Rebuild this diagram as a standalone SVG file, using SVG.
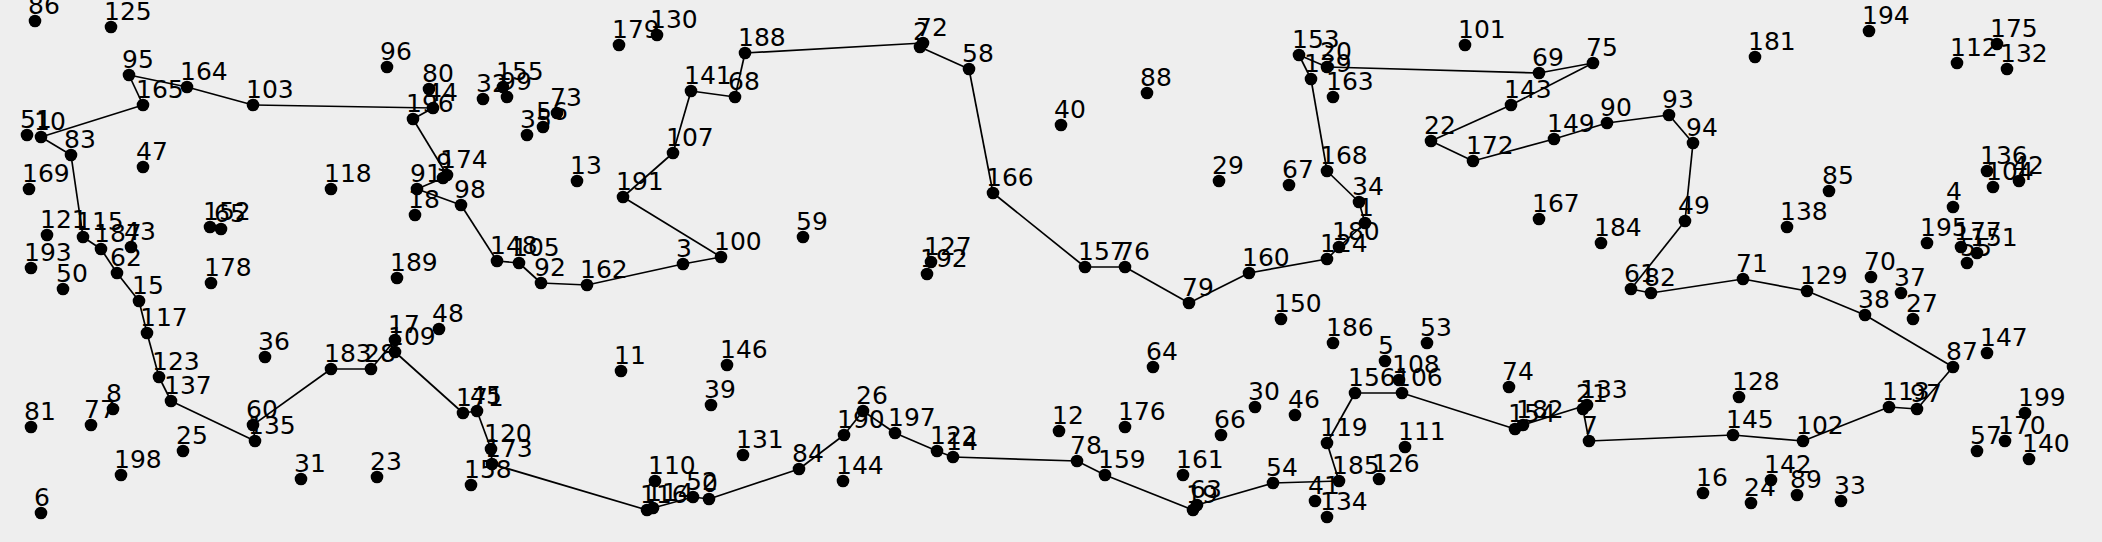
<svg xmlns="http://www.w3.org/2000/svg" width="2102" height="542" viewBox="0 0 2102 542">
<style>
.n circle{fill:#000}
.n text{font-family:"DejaVu Sans",sans-serif;font-size:25px;fill:#000}
.e line{stroke:#000;stroke-width:1.7}
</style>
<rect width="2102" height="542" fill="#eeeeee"/>
<g class="e" id="edges">
<line x1="253" y1="105" x2="433" y2="108"/>
<line x1="433" y1="108" x2="413" y2="119"/>
<line x1="413" y1="119" x2="447" y2="175"/>
<line x1="447" y1="175" x2="443" y2="178"/>
<line x1="443" y1="178" x2="417" y2="189"/>
<line x1="417" y1="189" x2="461" y2="205"/>
<line x1="461" y1="205" x2="497" y2="261"/>
<line x1="497" y1="261" x2="519" y2="263"/>
<line x1="519" y1="263" x2="541" y2="283"/>
<line x1="541" y1="283" x2="587" y2="285"/>
<line x1="587" y1="285" x2="683" y2="264"/>
<line x1="683" y1="264" x2="721" y2="257"/>
<line x1="721" y1="257" x2="623" y2="197"/>
<line x1="623" y1="197" x2="673" y2="153"/>
<line x1="673" y1="153" x2="691" y2="91"/>
<line x1="691" y1="91" x2="735" y2="97"/>
<line x1="735" y1="97" x2="745" y2="53"/>
<line x1="745" y1="53" x2="923" y2="43"/>
<line x1="923" y1="43" x2="920" y2="47"/>
<line x1="920" y1="47" x2="969" y2="69"/>
<line x1="969" y1="69" x2="993" y2="193"/>
<line x1="993" y1="193" x2="1085" y2="267"/>
<line x1="1085" y1="267" x2="1125" y2="267"/>
<line x1="1125" y1="267" x2="1189" y2="303"/>
<line x1="1189" y1="303" x2="1249" y2="273"/>
<line x1="1249" y1="273" x2="1327" y2="259"/>
<line x1="1327" y1="259" x2="1339" y2="247"/>
<line x1="1339" y1="247" x2="1365" y2="223"/>
<line x1="1365" y1="223" x2="1359" y2="202"/>
<line x1="1359" y1="202" x2="1327" y2="171"/>
<line x1="1327" y1="171" x2="1311" y2="79"/>
<line x1="1311" y1="79" x2="1299" y2="55"/>
<line x1="1299" y1="55" x2="1327" y2="67"/>
<line x1="1327" y1="67" x2="1539" y2="73"/>
<line x1="1539" y1="73" x2="1593" y2="63"/>
<line x1="1593" y1="63" x2="1511" y2="105"/>
<line x1="1511" y1="105" x2="1431" y2="141"/>
<line x1="1431" y1="141" x2="1473" y2="161"/>
<line x1="1473" y1="161" x2="1554" y2="139"/>
<line x1="1554" y1="139" x2="1607" y2="123"/>
<line x1="1607" y1="123" x2="1669" y2="115"/>
<line x1="1669" y1="115" x2="1693" y2="143"/>
<line x1="1693" y1="143" x2="1685" y2="221"/>
<line x1="1685" y1="221" x2="1631" y2="289"/>
<line x1="1631" y1="289" x2="1651" y2="293"/>
<line x1="1651" y1="293" x2="1743" y2="279"/>
<line x1="1743" y1="279" x2="1807" y2="291"/>
<line x1="1807" y1="291" x2="1865" y2="315"/>
<line x1="1865" y1="315" x2="1953" y2="367"/>
<line x1="1953" y1="367" x2="1917" y2="409"/>
<line x1="1917" y1="409" x2="1889" y2="407"/>
<line x1="1889" y1="407" x2="1803" y2="441"/>
<line x1="1803" y1="441" x2="1733" y2="435"/>
<line x1="1733" y1="435" x2="1589" y2="441"/>
<line x1="1589" y1="441" x2="1583" y2="409"/>
<line x1="1583" y1="409" x2="1587" y2="405"/>
<line x1="1587" y1="405" x2="1523" y2="425"/>
<line x1="1523" y1="425" x2="1515" y2="429"/>
<line x1="1515" y1="429" x2="1402" y2="393"/>
<line x1="1402" y1="393" x2="1355" y2="393"/>
<line x1="1355" y1="393" x2="1327" y2="443"/>
<line x1="1327" y1="443" x2="1339" y2="481"/>
<line x1="1339" y1="481" x2="1273" y2="483"/>
<line x1="1273" y1="483" x2="1197" y2="505"/>
<line x1="1197" y1="505" x2="1193" y2="510"/>
<line x1="1193" y1="510" x2="1105" y2="475"/>
<line x1="1105" y1="475" x2="1077" y2="461"/>
<line x1="1077" y1="461" x2="953" y2="457"/>
<line x1="953" y1="457" x2="937" y2="451"/>
<line x1="937" y1="451" x2="895" y2="433"/>
<line x1="895" y1="433" x2="863" y2="411"/>
<line x1="863" y1="411" x2="844" y2="435"/>
<line x1="844" y1="435" x2="799" y2="469"/>
<line x1="799" y1="469" x2="709" y2="499"/>
<line x1="709" y1="499" x2="693" y2="497"/>
<line x1="693" y1="497" x2="653" y2="508"/>
<line x1="653" y1="508" x2="647" y2="510"/>
<line x1="647" y1="510" x2="492" y2="464"/>
<line x1="492" y1="464" x2="491" y2="449"/>
<line x1="491" y1="449" x2="477" y2="411"/>
<line x1="477" y1="411" x2="463" y2="413"/>
<line x1="463" y1="413" x2="395" y2="352"/>
<line x1="395" y1="352" x2="395" y2="340"/>
<line x1="395" y1="340" x2="371" y2="369"/>
<line x1="371" y1="369" x2="331" y2="369"/>
<line x1="331" y1="369" x2="253" y2="425"/>
<line x1="253" y1="425" x2="255" y2="441"/>
<line x1="255" y1="441" x2="171" y2="401"/>
<line x1="171" y1="401" x2="159" y2="377"/>
<line x1="159" y1="377" x2="147" y2="333"/>
<line x1="147" y1="333" x2="139" y2="301"/>
<line x1="139" y1="301" x2="117" y2="273"/>
<line x1="117" y1="273" x2="101" y2="249"/>
<line x1="101" y1="249" x2="83" y2="237"/>
<line x1="83" y1="237" x2="71" y2="155"/>
<line x1="71" y1="155" x2="41" y2="137"/>
<line x1="41" y1="137" x2="143" y2="105"/>
<line x1="143" y1="105" x2="129" y2="75"/>
<line x1="129" y1="75" x2="187" y2="87"/>
<line x1="187" y1="87" x2="253" y2="105"/>
</g>
<g class="n" id="n0"><circle cx="709" cy="499" r="6.3"/><text x="702" y="492">0</text></g>
<g class="n" id="n1"><circle cx="1365" cy="223" r="6.3"/><text x="1358" y="216">1</text></g>
<g class="n" id="n2"><circle cx="920" cy="47" r="6.3"/><text x="913" y="40">2</text></g>
<g class="n" id="n3"><circle cx="683" cy="264" r="6.3"/><text x="676" y="257">3</text></g>
<g class="n" id="n4"><circle cx="1953" cy="207" r="6.3"/><text x="1946" y="200">4</text></g>
<g class="n" id="n5"><circle cx="1385" cy="361" r="6.3"/><text x="1378" y="354">5</text></g>
<g class="n" id="n6"><circle cx="41" cy="513" r="6.3"/><text x="34" y="506">6</text></g>
<g class="n" id="n7"><circle cx="1589" cy="441" r="6.3"/><text x="1582" y="434">7</text></g>
<g class="n" id="n8"><circle cx="113" cy="409" r="6.3"/><text x="106" y="402">8</text></g>
<g class="n" id="n9"><circle cx="443" cy="178" r="6.3"/><text x="436" y="171">9</text></g>
<g class="n" id="n10"><circle cx="41" cy="137" r="6.3"/><text x="34" y="130">10</text></g>
<g class="n" id="n11"><circle cx="621" cy="371" r="6.3"/><text x="614" y="364">11</text></g>
<g class="n" id="n12"><circle cx="1059" cy="431" r="6.3"/><text x="1052" y="424">12</text></g>
<g class="n" id="n13"><circle cx="577" cy="181" r="6.3"/><text x="570" y="174">13</text></g>
<g class="n" id="n14"><circle cx="953" cy="457" r="6.3"/><text x="946" y="450">14</text></g>
<g class="n" id="n15"><circle cx="139" cy="301" r="6.3"/><text x="132" y="294">15</text></g>
<g class="n" id="n16"><circle cx="1703" cy="493" r="6.3"/><text x="1696" y="486">16</text></g>
<g class="n" id="n17"><circle cx="395" cy="340" r="6.3"/><text x="388" y="333">17</text></g>
<g class="n" id="n18"><circle cx="415" cy="215" r="6.3"/><text x="408" y="208">18</text></g>
<g class="n" id="n19"><circle cx="1193" cy="510" r="6.3"/><text x="1186" y="503">19</text></g>
<g class="n" id="n20"><circle cx="1327" cy="67" r="6.3"/><text x="1320" y="60">20</text></g>
<g class="n" id="n21"><circle cx="1583" cy="409" r="6.3"/><text x="1576" y="402">21</text></g>
<g class="n" id="n22"><circle cx="1431" cy="141" r="6.3"/><text x="1424" y="134">22</text></g>
<g class="n" id="n23"><circle cx="377" cy="477" r="6.3"/><text x="370" y="470">23</text></g>
<g class="n" id="n24"><circle cx="1751" cy="503" r="6.3"/><text x="1744" y="496">24</text></g>
<g class="n" id="n25"><circle cx="183" cy="451" r="6.3"/><text x="176" y="444">25</text></g>
<g class="n" id="n26"><circle cx="863" cy="411" r="6.3"/><text x="856" y="404">26</text></g>
<g class="n" id="n27"><circle cx="1913" cy="319" r="6.3"/><text x="1906" y="312">27</text></g>
<g class="n" id="n28"><circle cx="371" cy="369" r="6.3"/><text x="364" y="362">28</text></g>
<g class="n" id="n29"><circle cx="1219" cy="181" r="6.3"/><text x="1212" y="174">29</text></g>
<g class="n" id="n30"><circle cx="1255" cy="407" r="6.3"/><text x="1248" y="400">30</text></g>
<g class="n" id="n31"><circle cx="301" cy="479" r="6.3"/><text x="294" y="472">31</text></g>
<g class="n" id="n32"><circle cx="483" cy="99" r="6.3"/><text x="476" y="92">32</text></g>
<g class="n" id="n33"><circle cx="1841" cy="501" r="6.3"/><text x="1834" y="494">33</text></g>
<g class="n" id="n34"><circle cx="1359" cy="202" r="6.3"/><text x="1352" y="195">34</text></g>
<g class="n" id="n35"><circle cx="527" cy="135" r="6.3"/><text x="520" y="128">35</text></g>
<g class="n" id="n36"><circle cx="265" cy="357" r="6.3"/><text x="258" y="350">36</text></g>
<g class="n" id="n37"><circle cx="1901" cy="293" r="6.3"/><text x="1894" y="286">37</text></g>
<g class="n" id="n38"><circle cx="1865" cy="315" r="6.3"/><text x="1858" y="308">38</text></g>
<g class="n" id="n39"><circle cx="711" cy="405" r="6.3"/><text x="704" y="398">39</text></g>
<g class="n" id="n40"><circle cx="1061" cy="125" r="6.3"/><text x="1054" y="118">40</text></g>
<g class="n" id="n41"><circle cx="1315" cy="501" r="6.3"/><text x="1308" y="494">41</text></g>
<g class="n" id="n42"><circle cx="2019" cy="181" r="6.3"/><text x="2012" y="174">42</text></g>
<g class="n" id="n43"><circle cx="131" cy="247" r="6.3"/><text x="124" y="240">43</text></g>
<g class="n" id="n44"><circle cx="433" cy="108" r="6.3"/><text x="426" y="101">44</text></g>
<g class="n" id="n45"><circle cx="477" cy="411" r="6.3"/><text x="470" y="404">45</text></g>
<g class="n" id="n46"><circle cx="1295" cy="415" r="6.3"/><text x="1288" y="408">46</text></g>
<g class="n" id="n47"><circle cx="143" cy="167" r="6.3"/><text x="136" y="160">47</text></g>
<g class="n" id="n48"><circle cx="439" cy="329" r="6.3"/><text x="432" y="322">48</text></g>
<g class="n" id="n49"><circle cx="1685" cy="221" r="6.3"/><text x="1678" y="214">49</text></g>
<g class="n" id="n50"><circle cx="63" cy="289" r="6.3"/><text x="56" y="282">50</text></g>
<g class="n" id="n51"><circle cx="27" cy="135" r="6.3"/><text x="20" y="128">51</text></g>
<g class="n" id="n52"><circle cx="693" cy="497" r="6.3"/><text x="686" y="490">52</text></g>
<g class="n" id="n53"><circle cx="1427" cy="343" r="6.3"/><text x="1420" y="336">53</text></g>
<g class="n" id="n54"><circle cx="1273" cy="483" r="6.3"/><text x="1266" y="476">54</text></g>
<g class="n" id="n55"><circle cx="1967" cy="263" r="6.3"/><text x="1960" y="256">55</text></g>
<g class="n" id="n56"><circle cx="543" cy="127" r="6.3"/><text x="536" y="120">56</text></g>
<g class="n" id="n57"><circle cx="1977" cy="451" r="6.3"/><text x="1970" y="444">57</text></g>
<g class="n" id="n58"><circle cx="969" cy="69" r="6.3"/><text x="962" y="62">58</text></g>
<g class="n" id="n59"><circle cx="803" cy="237" r="6.3"/><text x="796" y="230">59</text></g>
<g class="n" id="n60"><circle cx="253" cy="425" r="6.3"/><text x="246" y="418">60</text></g>
<g class="n" id="n61"><circle cx="1631" cy="289" r="6.3"/><text x="1624" y="282">61</text></g>
<g class="n" id="n62"><circle cx="117" cy="273" r="6.3"/><text x="110" y="266">62</text></g>
<g class="n" id="n63"><circle cx="1197" cy="505" r="6.3"/><text x="1190" y="498">63</text></g>
<g class="n" id="n64"><circle cx="1153" cy="367" r="6.3"/><text x="1146" y="360">64</text></g>
<g class="n" id="n65"><circle cx="221" cy="229" r="6.3"/><text x="214" y="222">65</text></g>
<g class="n" id="n66"><circle cx="1221" cy="435" r="6.3"/><text x="1214" y="428">66</text></g>
<g class="n" id="n67"><circle cx="1289" cy="185" r="6.3"/><text x="1282" y="178">67</text></g>
<g class="n" id="n68"><circle cx="735" cy="97" r="6.3"/><text x="728" y="90">68</text></g>
<g class="n" id="n69"><circle cx="1539" cy="73" r="6.3"/><text x="1532" y="66">69</text></g>
<g class="n" id="n70"><circle cx="1871" cy="277" r="6.3"/><text x="1864" y="270">70</text></g>
<g class="n" id="n71"><circle cx="1743" cy="279" r="6.3"/><text x="1736" y="272">71</text></g>
<g class="n" id="n72"><circle cx="923" cy="43" r="6.3"/><text x="916" y="36">72</text></g>
<g class="n" id="n73"><circle cx="557" cy="113" r="6.3"/><text x="550" y="106">73</text></g>
<g class="n" id="n74"><circle cx="1509" cy="387" r="6.3"/><text x="1502" y="380">74</text></g>
<g class="n" id="n75"><circle cx="1593" cy="63" r="6.3"/><text x="1586" y="56">75</text></g>
<g class="n" id="n76"><circle cx="1125" cy="267" r="6.3"/><text x="1118" y="260">76</text></g>
<g class="n" id="n77"><circle cx="91" cy="425" r="6.3"/><text x="84" y="418">77</text></g>
<g class="n" id="n78"><circle cx="1077" cy="461" r="6.3"/><text x="1070" y="454">78</text></g>
<g class="n" id="n79"><circle cx="1189" cy="303" r="6.3"/><text x="1182" y="296">79</text></g>
<g class="n" id="n80"><circle cx="429" cy="89" r="6.3"/><text x="422" y="82">80</text></g>
<g class="n" id="n81"><circle cx="31" cy="427" r="6.3"/><text x="24" y="420">81</text></g>
<g class="n" id="n82"><circle cx="1651" cy="293" r="6.3"/><text x="1644" y="286">82</text></g>
<g class="n" id="n83"><circle cx="71" cy="155" r="6.3"/><text x="64" y="148">83</text></g>
<g class="n" id="n84"><circle cx="799" cy="469" r="6.3"/><text x="792" y="462">84</text></g>
<g class="n" id="n85"><circle cx="1829" cy="191" r="6.3"/><text x="1822" y="184">85</text></g>
<g class="n" id="n86"><circle cx="35" cy="21" r="6.3"/><text x="28" y="14">86</text></g>
<g class="n" id="n87"><circle cx="1953" cy="367" r="6.3"/><text x="1946" y="360">87</text></g>
<g class="n" id="n88"><circle cx="1147" cy="93" r="6.3"/><text x="1140" y="86">88</text></g>
<g class="n" id="n89"><circle cx="1797" cy="495" r="6.3"/><text x="1790" y="488">89</text></g>
<g class="n" id="n90"><circle cx="1607" cy="123" r="6.3"/><text x="1600" y="116">90</text></g>
<g class="n" id="n91"><circle cx="417" cy="189" r="6.3"/><text x="410" y="182">91</text></g>
<g class="n" id="n92"><circle cx="541" cy="283" r="6.3"/><text x="534" y="276">92</text></g>
<g class="n" id="n93"><circle cx="1669" cy="115" r="6.3"/><text x="1662" y="108">93</text></g>
<g class="n" id="n94"><circle cx="1693" cy="143" r="6.3"/><text x="1686" y="136">94</text></g>
<g class="n" id="n95"><circle cx="129" cy="75" r="6.3"/><text x="122" y="68">95</text></g>
<g class="n" id="n96"><circle cx="387" cy="67" r="6.3"/><text x="380" y="60">96</text></g>
<g class="n" id="n97"><circle cx="1917" cy="409" r="6.3"/><text x="1910" y="402">97</text></g>
<g class="n" id="n98"><circle cx="461" cy="205" r="6.3"/><text x="454" y="198">98</text></g>
<g class="n" id="n99"><circle cx="507" cy="97" r="6.3"/><text x="500" y="90">99</text></g>
<g class="n" id="n100"><circle cx="721" cy="257" r="6.3"/><text x="714" y="250">100</text></g>
<g class="n" id="n101"><circle cx="1465" cy="45" r="6.3"/><text x="1458" y="38">101</text></g>
<g class="n" id="n102"><circle cx="1803" cy="441" r="6.3"/><text x="1796" y="434">102</text></g>
<g class="n" id="n103"><circle cx="253" cy="105" r="6.3"/><text x="246" y="98">103</text></g>
<g class="n" id="n104"><circle cx="1993" cy="187" r="6.3"/><text x="1986" y="180">104</text></g>
<g class="n" id="n105"><circle cx="519" cy="263" r="6.3"/><text x="512" y="256">105</text></g>
<g class="n" id="n106"><circle cx="1402" cy="393" r="6.3"/><text x="1395" y="386">106</text></g>
<g class="n" id="n107"><circle cx="673" cy="153" r="6.3"/><text x="666" y="146">107</text></g>
<g class="n" id="n108"><circle cx="1399" cy="380" r="6.3"/><text x="1392" y="373">108</text></g>
<g class="n" id="n109"><circle cx="395" cy="352" r="6.3"/><text x="388" y="345">109</text></g>
<g class="n" id="n110"><circle cx="655" cy="481" r="6.3"/><text x="648" y="474">110</text></g>
<g class="n" id="n111"><circle cx="1405" cy="447" r="6.3"/><text x="1398" y="440">111</text></g>
<g class="n" id="n112"><circle cx="1957" cy="63" r="6.3"/><text x="1950" y="56">112</text></g>
<g class="n" id="n113"><circle cx="1889" cy="407" r="6.3"/><text x="1882" y="400">113</text></g>
<g class="n" id="n114"><circle cx="653" cy="508" r="6.3"/><text x="646" y="501">114</text></g>
<g class="n" id="n115"><circle cx="83" cy="237" r="6.3"/><text x="76" y="230">115</text></g>
<g class="n" id="n116"><circle cx="647" cy="510" r="6.3"/><text x="640" y="503">116</text></g>
<g class="n" id="n117"><circle cx="147" cy="333" r="6.3"/><text x="140" y="326">117</text></g>
<g class="n" id="n118"><circle cx="331" cy="189" r="6.3"/><text x="324" y="182">118</text></g>
<g class="n" id="n119"><circle cx="1327" cy="443" r="6.3"/><text x="1320" y="436">119</text></g>
<g class="n" id="n120"><circle cx="491" cy="449" r="6.3"/><text x="484" y="442">120</text></g>
<g class="n" id="n121"><circle cx="47" cy="235" r="6.3"/><text x="40" y="228">121</text></g>
<g class="n" id="n122"><circle cx="937" cy="451" r="6.3"/><text x="930" y="444">122</text></g>
<g class="n" id="n123"><circle cx="159" cy="377" r="6.3"/><text x="152" y="370">123</text></g>
<g class="n" id="n124"><circle cx="1327" cy="259" r="6.3"/><text x="1320" y="252">124</text></g>
<g class="n" id="n125"><circle cx="111" cy="27" r="6.3"/><text x="104" y="20">125</text></g>
<g class="n" id="n126"><circle cx="1379" cy="479" r="6.3"/><text x="1372" y="472">126</text></g>
<g class="n" id="n127"><circle cx="931" cy="262" r="6.3"/><text x="924" y="255">127</text></g>
<g class="n" id="n128"><circle cx="1739" cy="397" r="6.3"/><text x="1732" y="390">128</text></g>
<g class="n" id="n129"><circle cx="1807" cy="291" r="6.3"/><text x="1800" y="284">129</text></g>
<g class="n" id="n130"><circle cx="657" cy="35" r="6.3"/><text x="650" y="28">130</text></g>
<g class="n" id="n131"><circle cx="743" cy="455" r="6.3"/><text x="736" y="448">131</text></g>
<g class="n" id="n132"><circle cx="2007" cy="69" r="6.3"/><text x="2000" y="62">132</text></g>
<g class="n" id="n133"><circle cx="1587" cy="405" r="6.3"/><text x="1580" y="398">133</text></g>
<g class="n" id="n134"><circle cx="1327" cy="517" r="6.3"/><text x="1320" y="510">134</text></g>
<g class="n" id="n135"><circle cx="255" cy="441" r="6.3"/><text x="248" y="434">135</text></g>
<g class="n" id="n136"><circle cx="1987" cy="171" r="6.3"/><text x="1980" y="164">136</text></g>
<g class="n" id="n137"><circle cx="171" cy="401" r="6.3"/><text x="164" y="394">137</text></g>
<g class="n" id="n138"><circle cx="1787" cy="227" r="6.3"/><text x="1780" y="220">138</text></g>
<g class="n" id="n139"><circle cx="1311" cy="79" r="6.3"/><text x="1304" y="72">139</text></g>
<g class="n" id="n140"><circle cx="2029" cy="459" r="6.3"/><text x="2022" y="452">140</text></g>
<g class="n" id="n141"><circle cx="691" cy="91" r="6.3"/><text x="684" y="84">141</text></g>
<g class="n" id="n142"><circle cx="1771" cy="480" r="6.3"/><text x="1764" y="473">142</text></g>
<g class="n" id="n143"><circle cx="1511" cy="105" r="6.3"/><text x="1504" y="98">143</text></g>
<g class="n" id="n144"><circle cx="843" cy="481" r="6.3"/><text x="836" y="474">144</text></g>
<g class="n" id="n145"><circle cx="1733" cy="435" r="6.3"/><text x="1726" y="428">145</text></g>
<g class="n" id="n146"><circle cx="727" cy="365" r="6.3"/><text x="720" y="358">146</text></g>
<g class="n" id="n147"><circle cx="1987" cy="353" r="6.3"/><text x="1980" y="346">147</text></g>
<g class="n" id="n148"><circle cx="497" cy="261" r="6.3"/><text x="490" y="254">148</text></g>
<g class="n" id="n149"><circle cx="1554" cy="139" r="6.3"/><text x="1547" y="132">149</text></g>
<g class="n" id="n150"><circle cx="1281" cy="319" r="6.3"/><text x="1274" y="312">150</text></g>
<g class="n" id="n151"><circle cx="1977" cy="253" r="6.3"/><text x="1970" y="246">151</text></g>
<g class="n" id="n152"><circle cx="210" cy="227" r="6.3"/><text x="203" y="220">152</text></g>
<g class="n" id="n153"><circle cx="1299" cy="55" r="6.3"/><text x="1292" y="48">153</text></g>
<g class="n" id="n154"><circle cx="1515" cy="429" r="6.3"/><text x="1508" y="422">154</text></g>
<g class="n" id="n155"><circle cx="503" cy="87" r="6.3"/><text x="496" y="80">155</text></g>
<g class="n" id="n156"><circle cx="1355" cy="393" r="6.3"/><text x="1348" y="386">156</text></g>
<g class="n" id="n157"><circle cx="1085" cy="267" r="6.3"/><text x="1078" y="260">157</text></g>
<g class="n" id="n158"><circle cx="471" cy="485" r="6.3"/><text x="464" y="478">158</text></g>
<g class="n" id="n159"><circle cx="1105" cy="475" r="6.3"/><text x="1098" y="468">159</text></g>
<g class="n" id="n160"><circle cx="1249" cy="273" r="6.3"/><text x="1242" y="266">160</text></g>
<g class="n" id="n161"><circle cx="1183" cy="475" r="6.3"/><text x="1176" y="468">161</text></g>
<g class="n" id="n162"><circle cx="587" cy="285" r="6.3"/><text x="580" y="278">162</text></g>
<g class="n" id="n163"><circle cx="1333" cy="97" r="6.3"/><text x="1326" y="90">163</text></g>
<g class="n" id="n164"><circle cx="187" cy="87" r="6.3"/><text x="180" y="80">164</text></g>
<g class="n" id="n165"><circle cx="143" cy="105" r="6.3"/><text x="136" y="98">165</text></g>
<g class="n" id="n166"><circle cx="993" cy="193" r="6.3"/><text x="986" y="186">166</text></g>
<g class="n" id="n167"><circle cx="1539" cy="219" r="6.3"/><text x="1532" y="212">167</text></g>
<g class="n" id="n168"><circle cx="1327" cy="171" r="6.3"/><text x="1320" y="164">168</text></g>
<g class="n" id="n169"><circle cx="29" cy="189" r="6.3"/><text x="22" y="182">169</text></g>
<g class="n" id="n170"><circle cx="2005" cy="441" r="6.3"/><text x="1998" y="434">170</text></g>
<g class="n" id="n171"><circle cx="463" cy="413" r="6.3"/><text x="456" y="406">171</text></g>
<g class="n" id="n172"><circle cx="1473" cy="161" r="6.3"/><text x="1466" y="154">172</text></g>
<g class="n" id="n173"><circle cx="492" cy="464" r="6.3"/><text x="485" y="457">173</text></g>
<g class="n" id="n174"><circle cx="447" cy="175" r="6.3"/><text x="440" y="168">174</text></g>
<g class="n" id="n175"><circle cx="1997" cy="44" r="6.3"/><text x="1990" y="37">175</text></g>
<g class="n" id="n176"><circle cx="1125" cy="427" r="6.3"/><text x="1118" y="420">176</text></g>
<g class="n" id="n177"><circle cx="1961" cy="247" r="6.3"/><text x="1954" y="240">177</text></g>
<g class="n" id="n178"><circle cx="211" cy="283" r="6.3"/><text x="204" y="276">178</text></g>
<g class="n" id="n179"><circle cx="619" cy="45" r="6.3"/><text x="612" y="38">179</text></g>
<g class="n" id="n180"><circle cx="1339" cy="247" r="6.3"/><text x="1332" y="240">180</text></g>
<g class="n" id="n181"><circle cx="1755" cy="57" r="6.3"/><text x="1748" y="50">181</text></g>
<g class="n" id="n182"><circle cx="1523" cy="425" r="6.3"/><text x="1516" y="418">182</text></g>
<g class="n" id="n183"><circle cx="331" cy="369" r="6.3"/><text x="324" y="362">183</text></g>
<g class="n" id="n184"><circle cx="1601" cy="243" r="6.3"/><text x="1594" y="236">184</text></g>
<g class="n" id="n185"><circle cx="1339" cy="481" r="6.3"/><text x="1332" y="474">185</text></g>
<g class="n" id="n186"><circle cx="1333" cy="343" r="6.3"/><text x="1326" y="336">186</text></g>
<g class="n" id="n187"><circle cx="101" cy="249" r="6.3"/><text x="94" y="242">187</text></g>
<g class="n" id="n188"><circle cx="745" cy="53" r="6.3"/><text x="738" y="46">188</text></g>
<g class="n" id="n189"><circle cx="397" cy="278" r="6.3"/><text x="390" y="271">189</text></g>
<g class="n" id="n190"><circle cx="844" cy="435" r="6.3"/><text x="837" y="428">190</text></g>
<g class="n" id="n191"><circle cx="623" cy="197" r="6.3"/><text x="616" y="190">191</text></g>
<g class="n" id="n192"><circle cx="927" cy="274" r="6.3"/><text x="920" y="267">192</text></g>
<g class="n" id="n193"><circle cx="31" cy="268" r="6.3"/><text x="24" y="261">193</text></g>
<g class="n" id="n194"><circle cx="1869" cy="31" r="6.3"/><text x="1862" y="24">194</text></g>
<g class="n" id="n195"><circle cx="1927" cy="243" r="6.3"/><text x="1920" y="236">195</text></g>
<g class="n" id="n196"><circle cx="413" cy="119" r="6.3"/><text x="406" y="112">196</text></g>
<g class="n" id="n197"><circle cx="895" cy="433" r="6.3"/><text x="888" y="426">197</text></g>
<g class="n" id="n198"><circle cx="121" cy="475" r="6.3"/><text x="114" y="468">198</text></g>
<g class="n" id="n199"><circle cx="2025" cy="413" r="6.3"/><text x="2018" y="406">199</text></g>
</svg>
